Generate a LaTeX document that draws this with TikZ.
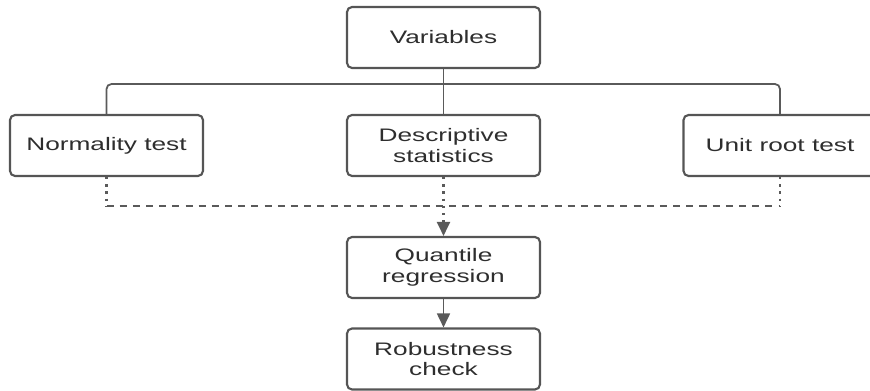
\documentclass[tikz,border=0pt]{standalone}
\usepackage{fontspec}
\setmainfont{Liberation Sans}[FakeStretch=1.45]
\usetikzlibrary{arrows.meta}
\definecolor{boxgray}{HTML}{555555}
\definecolor{linegray}{HTML}{5A5A5A}
\definecolor{textgray}{HTML}{2E2E2E}

\begin{document}
\begin{tikzpicture}[x=0.02cm, y=-0.02cm,
  every node/.style={align=center, font=\fontsize{10.3}{11.6}\selectfont, text=textgray},
  stepbox/.style={draw=boxgray, line width=1.2pt, rounded corners=0.1cm, fill=white, minimum width=3.86cm, minimum height=1.22cm},
  link/.style={draw=linegray, line width=1pt},
  dots/.style={draw=linegray, line width=1.3pt, dash pattern=on 1.3pt off 2.8pt},
  dashes/.style={draw=linegray, line width=1pt, dash pattern=on 4pt off 3.5pt}]
\useasboundingbox (0,0) rectangle (870,391);

% Boxes
\node[stepbox] (vars) at (443.5,37.5) {Variables};
\node[stepbox] (normal) at (106.5,145.5) {Normality test};
\node[stepbox] (descr) at (443.5,145.5) {Descriptive\\statistics};
\node[stepbox] (unitroot) at (780,145.5) {Unit root test};
\node[stepbox] (quant) at (443.5,267.5) {Quantile\\regression};
\node[stepbox] (robust) at (443.5,359) {Robustness\\check};

% Split line
\coordinate (split) at (443.5,84);
\draw[link] (vars.south) -- (descr.north);
\draw[link, rounded corners=0.1cm] (normal.north) |- (split) -| (unitroot.north);

% Dotted join
\coordinate (join) at (443.5,206);
\draw[dots] (normal.south) -- (normal.south |- join);
\draw[dots] (unitroot.south) -- (unitroot.south |- join);
\draw[dashes] (normal.south |- join) -- (unitroot.south |- join);
\draw[dots, -{Triangle[width=0.26cm, length=0.28cm, fill=linegray]}] (descr.south) -- (quant.north);

% Last step
\draw[link, -{Triangle[width=0.26cm, length=0.28cm, fill=linegray]}] (quant.south) -- (robust.north);
\end{tikzpicture}
\end{document}
